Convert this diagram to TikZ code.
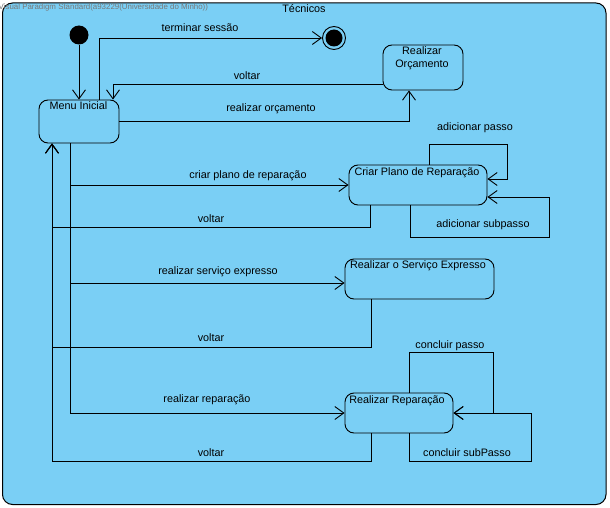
\documentclass[tikz,border=0pt]{standalone}
\usepackage{fontspec}
\setmainfont{Liberation Sans}
\usetikzlibrary{arrows.meta}
\definecolor{bg}{RGB}{122,207,245}
\definecolor{wm}{RGB}{120,120,120}
\tikzset{
  statebox/.style={draw=black, line width=0.9pt, rounded corners=9pt, inner sep=0pt},
  conn/.style={draw=black, line width=0.9pt},
  arr/.style={conn, -{Straight Barb[length=9pt,width=13pt,line width=0.9pt]}},
  lbl/.style={font=\fontsize{10.8}{12}\selectfont, inner sep=0pt},
  stxt/.style={font=\fontsize{10.8}{12.5}\selectfont, inner sep=0pt, align=center}
}
\begin{document}
\begin{tikzpicture}[x=1pt,y=-1pt]
\useasboundingbox (0,0) rectangle (610,508);
\draw[fill=bg, line width=1pt, rounded corners=10pt] (2.5,3) rectangle (606,504.5);
\node[font=\fontsize{7.9}{8}\selectfont, text=wm, anchor=west, inner sep=0pt] (wmark) at (-1.5,7) {Visual Paradigm Standard(a93229(Universidade do Minho))};
\node[lbl] (title) at (304,9) {Técnicos};

% states
\node[circle, fill=black, minimum size=19pt, inner sep=0pt] (init) at (79,35) {};
\node[circle, draw=black, line width=0.9pt, minimum size=23pt, inner sep=0pt] (final) at (334,38) {};
\fill (final.center) circle (8.5pt);

\node[statebox, minimum width=80pt, minimum height=43pt] (menu) at (79,121.5) {};
\node[stxt, anchor=north] (menut) at (78.5,101) {Menu Inicial};

\node[statebox, minimum width=80pt, minimum height=45pt] (orc) at (423,67.5) {};
\node[stxt, anchor=north] (orct) at (422,46) {Realizar\\[1pt]Orçamento};

\node[statebox, minimum width=138pt, minimum height=40pt] (criar) at (418,185) {};
\node[stxt] (criart) at (417,173) {Criar Plano de Reparação};

\node[statebox, minimum width=149pt, minimum height=40pt] (serv) at (419.5,279) {};
\node[stxt] (servt) at (418,266) {Realizar o Serviço Expresso};

\node[statebox, minimum width=108pt, minimum height=40pt] (rep) at (399,413) {};
\node[stxt] (rept) at (397,401) {Realizar Reparação};

% connectors
\draw[arr] (init) -- (menu.north);
\draw[arr] ([xshift=20pt]menu.north) |- (final.west);
\draw[arr] ([yshift=-16.5pt]orc.west) -| ([xshift=34pt]menu.north);
\draw[arr] (menu.east) -| ([xshift=-14pt]orc.south);

\draw[arr] ([xshift=-9pt]menu.south) |- (criar.west);
\draw[arr] ([xshift=-9pt]menu.south) |- ([yshift=-4pt]serv.west);
\draw[arr] ([xshift=-9pt]menu.south) |- (rep.west);

\draw[arr] ([xshift=-48pt]criar.south) -- ++(0,22) -| ([xshift=-27pt]menu.south);
\draw[arr] ([xshift=-48.5pt]serv.south) -- ++(0,48) -| ([xshift=-27pt]menu.south);
\draw[arr] ([xshift=-28pt]rep.south) -- ++(0,28) -| ([xshift=-27pt]menu.south);

\draw[arr] ([xshift=11pt]criar.north) |- ++(78,-20) |- ([yshift=6pt]criar.east);
\draw[arr] ([xshift=-8pt]criar.south) |- ++(139,32) |- ([yshift=-12pt]criar.east);

\draw[arr] ([xshift=10pt]rep.north) |- ++(84,-40) |- (rep.east);
\draw[arr] ([xshift=10pt]rep.south) |- ++(122,28) |- (rep.east);

% labels
\node[lbl] (l1) at (200,28) {terminar sessão};
\node[lbl] (l2) at (247,76) {voltar};
\node[lbl] (l3) at (271,109) {realizar orçamento};
\node[lbl] (l4) at (475,128) {adicionar passo};
\node[lbl] (l5) at (248,176) {criar plano de reparação};
\node[lbl] (l6) at (211,219) {voltar};
\node[lbl] (l7) at (483,225) {adicionar subpasso};
\node[lbl] (l8) at (218,272) {realizar serviço expresso};
\node[lbl] (l9) at (211,338) {voltar};
\node[lbl] (l10) at (450,346) {concluir passo};
\node[lbl] (l11) at (207,400) {realizar reparação};
\node[lbl] (l12) at (211,453) {voltar};
\node[lbl] (l13) at (467,453) {concluir subPasso};
\end{tikzpicture}
\end{document}
